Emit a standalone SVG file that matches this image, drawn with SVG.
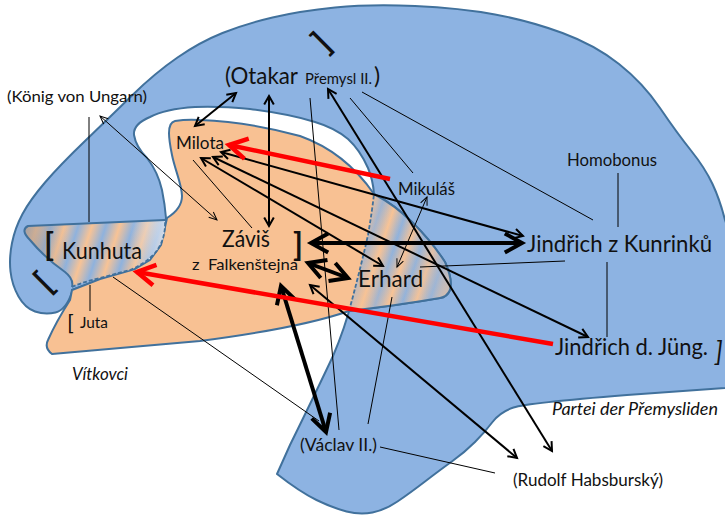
<svg xmlns="http://www.w3.org/2000/svg" width="725" height="517" viewBox="0 0 725 517">
  <style>
    .area { stroke: #41719C; stroke-width: 2; stroke-linejoin: round; }
    .blue { fill: #8DB3E2; }
    .orange { fill: #F8C193; }
    .edge { fill: none; stroke: #41719C; stroke-width: 2; stroke-linejoin: round; }
    .dash { fill: none; stroke: #41719C; stroke-width: 1.8; stroke-dasharray: 4 2; }
    text { font-family: Lato, "Liberation Sans", sans-serif; fill: #111; }
    .s { font-size: 16px; }
    .m { font-size: 17px; }
    .l { font-size: 23px; }
    .it { font-style: italic; }
    .br { font-weight: bold; }
    .c1 { fill: none; stroke: #000; stroke-width: 1; }
    .c2 { fill: none; stroke: #000; stroke-width: 2; }
    .c4 { fill: none; stroke: #000; stroke-width: 4; }
    .red { fill: none; stroke: #FF0000; stroke-width: 4.5; }
    .both1 { marker-start: url(#tipThin); marker-end: url(#tipThin); }
    .both { marker-start: url(#tip); marker-end: url(#tip); }
  </style>
  <defs>
    <marker id="tip" viewBox="-7 -5 9 10" refX="0" refY="0" markerWidth="9" markerHeight="10" orient="auto-start-reverse" markerUnits="strokeWidth" overflow="visible">
      <path d="M-4.3,-2.4 L0,0 L-4.3,2.4" fill="none" stroke="#000" stroke-width="1"/>
    </marker>
    <marker id="tipRed" viewBox="-7 -5 9 10" refX="0" refY="0" markerWidth="9" markerHeight="10" orient="auto-start-reverse" markerUnits="strokeWidth" overflow="visible">
      <path d="M-4,-2.3 L0,0 L-4,2.3" fill="none" stroke="#FF0000" stroke-width="1"/>
    </marker>
    <marker id="tipThin" viewBox="-10 -5 12 10" refX="0" refY="0" markerWidth="12" markerHeight="10" orient="auto-start-reverse" markerUnits="userSpaceOnUse" overflow="visible">
      <path d="M-8,-3.5 L0,0 L-8,3.5" fill="none" stroke="#000" stroke-width="1"/>
    </marker>
    <linearGradient id="stripeK" gradientUnits="userSpaceOnUse" x1="60" y1="240" x2="85" y2="248" spreadMethod="repeat">
      <stop offset="0" stop-color="#F7C396"/>
      <stop offset="0.5" stop-color="#8FB2DD"/>
      <stop offset="1" stop-color="#F7C396"/>
    </linearGradient>
    <linearGradient id="shadeK" gradientUnits="userSpaceOnUse" x1="25" y1="0" x2="165" y2="0">
      <stop offset="0" stop-color="#A89A92" stop-opacity="0.7"/>
      <stop offset="0.3" stop-color="#A89A92" stop-opacity="0"/>
      <stop offset="0.75" stop-color="#D8E2F0" stop-opacity="0"/>
      <stop offset="1" stop-color="#D8E2F0" stop-opacity="0.8"/>
    </linearGradient>
    <linearGradient id="stripeE" gradientUnits="userSpaceOnUse" x1="360" y1="230" x2="384" y2="238" spreadMethod="repeat">
      <stop offset="0" stop-color="#F7C396"/>
      <stop offset="0.5" stop-color="#8FB2DD"/>
      <stop offset="1" stop-color="#F7C396"/>
    </linearGradient>
    <linearGradient id="shadeE" gradientUnits="userSpaceOnUse" x1="350" y1="0" x2="452" y2="0">
      <stop offset="0" stop-color="#F8C193" stop-opacity="0.5"/>
      <stop offset="0.45" stop-color="#F8C193" stop-opacity="0"/>
      <stop offset="0.75" stop-color="#B8BCC8" stop-opacity="0.2"/>
      <stop offset="1" stop-color="#B4B8C4" stop-opacity="0.75"/>
    </linearGradient>
  </defs>

  <!-- Partei der Přemysliden: large blue area with the white channel cut in -->
  <g id="area-premysliden">
    <path class="area blue" d="M72,292 Q66,310 55.5,312.5 Q45,315 35,311.5 Q25,308 18.5,296.5 Q12,285 10.5,271.5 Q9,258 12,243 Q15,228 22.5,214 Q30,200 45,182.5 Q60,165 85,141 Q110,117 132.5,95 Q155,73 177.5,57.5 Q200,42 222.5,33 Q245,24 272.5,17.5 Q300,11 335,7.5 Q370,4 415,6 Q460,8 495,14.5 Q530,21 562.5,33 Q595,45 619,64 Q643,83 660,108 Q677,133 691,150.5 Q705,168 712.5,184 Q720,200 725,220 L732,240 L732,387 L725,388 L627,395 Q527,403 513.5,407.5 Q500,412 492.5,422 Q485,432 475,442 Q465,452 452.5,461 Q440,470 425,481.5 Q410,493 397.5,501.5 Q385,510 372.5,512.5 Q360,515 346.5,511.5 Q333,508 316.5,500 Q300,492 277,474 L290,445 Q318,388 333,356 Q345,328 352,300 Q362,262 368,235 Q372,212 374,194 Q373,180 368,168 Q360,150 348,139 Q335,128 315,122 Q290,114 250,109 Q220,106 195,107 Q165,109 150,117 Q133,124 134,135 Q136,147 147,158 Q158,172 162,190 Q165,205 166,218 L160,245 L130,270 L72,290 Z"/>
  </g>

  <!-- Vítkovci: orange area -->
  <g id="area-vitkovci">
    <path class="area orange" d="M175,121 Q187,119 200,120 Q250,122 300,136 Q345,152 374,194 Q395,205 413,223 Q432,242 445,262 Q453,280 450,290 Q447,297 440,298 Q400,305 349,311 Q300,328 200,341 Q100,350 52,354 Q44,348 48,340 Q56,322 70,300 L72,290 L100,279 L135,269 L150,260 L161,245 L167,218 C175,213 182,206 182,196 C182,185 175,170 172,155 C169,140 166,123 175,121 Z"/>
  </g>

  <!-- overlap zones -->
  <g id="overlap-kunhuta">
    <path fill="url(#stripeK)" d="M28,226 L165,220 Q166,240 155,253 Q145,264 130,270 L100,278 Q80,283 72,287 Q74,279 65,272 Q45,258 30,240 Q20,230 28,226 Z"/>
    <path fill="url(#shadeK)" d="M28,226 L165,220 Q166,240 155,253 Q145,264 130,270 L100,278 Q80,283 72,287 Q74,279 65,272 Q45,258 30,240 Q20,230 28,226 Z"/>
    <path class="edge" d="M165,220 L28,226 Q20,230 30,240 Q45,258 65,272 Q74,279 72,287"/>
    <path class="dash" d="M72,287 Q80,283 100,278 L130,270 Q145,264 155,253 Q166,240 165,220"/>
  </g>
  <g id="overlap-erhard">
    <path fill="url(#stripeE)" d="M374,194 Q395,205 413,223 Q432,242 445,262 Q453,280 450,290 Q447,297 440,298 Q400,305 349,311 L352,300 Q362,262 368,235 Q372,212 374,194 Z"/>
    <path fill="url(#shadeE)" d="M374,194 Q395,205 413,223 Q432,242 445,262 Q453,280 450,290 Q447,297 440,298 Q400,305 349,311 L352,300 Q362,262 368,235 Q372,212 374,194 Z"/>
    <path class="edge" d="M374,194 Q395,205 413,223 Q432,242 445,262 Q453,280 450,290 Q447,297 440,298 Q400,305 349,311"/>
    <path class="dash" d="M349,311 L352,300 Q362,262 368,235 Q372,212 374,194"/>
  </g>

  <!-- group labels -->
  <text class="m it" x="72" y="380" textLength="56" lengthAdjust="spacingAndGlyphs">Vítkovci</text>
  <text class="m it" x="552" y="415" textLength="166" lengthAdjust="spacingAndGlyphs">Partei der Přemysliden</text>

  <!-- persons -->
  <g id="koenig"><text class="s" x="7" y="102" textLength="140" lengthAdjust="spacingAndGlyphs">(König von Ungarn)</text></g>
  <g id="otakar">
    <text class="l" x="225" y="84" textLength="73" lengthAdjust="spacingAndGlyphs">(Otakar</text>
    <text x="305" y="84" font-size="15" textLength="67" lengthAdjust="spacingAndGlyphs">Přemysl II.</text>
    <text class="l" x="374" y="84">)</text>
  </g>
  <g id="bracket-top"><text class="br" x="0" y="0" font-size="33" transform="translate(326,54) rotate(-45)">]</text></g>
  <g id="milota"><text class="m" x="176" y="149" textLength="48" lengthAdjust="spacingAndGlyphs">Milota</text></g>
  <g id="zavis">
    <text class="l" x="222" y="247" textLength="48" lengthAdjust="spacingAndGlyphs">Záviš</text>
    <text class="s" x="192" y="270" xml:space="preserve" textLength="106" lengthAdjust="spacingAndGlyphs">z  Falkenštejna</text>
    <text class="br" x="293" y="256" font-size="32">]</text>
  </g>
  <g id="kunhuta">
    <text class="br" x="44" y="256" font-size="32">[</text>
    <text class="l" x="62" y="259" textLength="80" lengthAdjust="spacingAndGlyphs">Kunhuta</text>
  </g>
  <g id="bracket-left"><text class="br" x="0" y="0" font-size="33" transform="translate(48,294) rotate(-45)">[</text></g>
  <g id="juta">
    <text x="67" y="330" font-size="22">[</text>
    <text class="s" x="80" y="328" textLength="28" lengthAdjust="spacingAndGlyphs">Juta</text>
  </g>
  <g id="mikulas"><text class="m" x="398" y="195" textLength="57" lengthAdjust="spacingAndGlyphs">Mikuláš</text></g>
  <g id="homobonus"><text class="m" x="567" y="166" textLength="90" lengthAdjust="spacingAndGlyphs">Homobonus</text></g>
  <g id="jindrich-kunrinku"><text class="l" x="527" y="252" textLength="185" lengthAdjust="spacingAndGlyphs">Jindřich z Kunrinků</text></g>
  <g id="erhard"><text class="l" x="358" y="287" textLength="65" lengthAdjust="spacingAndGlyphs">Erhard</text></g>
  <g id="jindrich-jung">
    <text class="l" x="555" y="355" textLength="153" lengthAdjust="spacingAndGlyphs">Jindřich d. Jüng.</text>
    <text class="it" x="715" y="361" font-size="27">]</text>
  </g>
  <g id="vaclav"><text class="m" x="300" y="451" textLength="77" lengthAdjust="spacingAndGlyphs">(Václav II.)</text></g>
  <g id="rudolf"><text class="m" x="513" y="486" textLength="150" lengthAdjust="spacingAndGlyphs">(Rudolf Habsburský)</text></g>

  <!-- connectors -->
  <g id="connectors">
    <!-- plain thin lines -->
    <line class="c1" x1="89" y1="117" x2="89" y2="222"/>
    <line class="c1" x1="90" y1="285" x2="90" y2="311"/>
    <line class="c1" x1="193" y1="160" x2="252" y2="228"/>
    <line class="c1" x1="310" y1="98" x2="339" y2="430"/>
    <line class="c1" x1="350" y1="98" x2="413" y2="173"/>
    <line class="c1" x1="362" y1="92" x2="593" y2="220"/>
    <line class="c1" x1="618" y1="173" x2="618" y2="227"/>
    <line class="c1" x1="607" y1="262" x2="607" y2="337"/>
    <line class="c1" x1="565" y1="261" x2="420" y2="267"/>
    <line class="c1" x1="392" y1="297" x2="368" y2="424"/>
    <line class="c1" x1="380" y1="447" x2="495" y2="473"/>
    <line class="c1" x1="113" y1="277" x2="319" y2="421"/>
    <!-- thin double arrows -->
    <line class="c1 both1" x1="100" y1="116" x2="217" y2="220"/>
    <line class="c1 both1" x1="427" y1="197" x2="397" y2="267"/>
    <!-- medium double arrows -->
    <line class="c2 both" x1="236" y1="93" x2="195" y2="126"/>
    <line class="c2 both" x1="269" y1="96" x2="269" y2="226"/>
    <line class="c2 both" x1="328" y1="89" x2="552" y2="451"/>
    <line class="c2 both" x1="221" y1="152" x2="523" y2="236"/>
    <line class="c2 both" x1="213" y1="157" x2="588" y2="337"/>
    <line class="c2 both" x1="201" y1="158" x2="383" y2="266"/>
    <line class="c2 both" x1="310" y1="285" x2="517" y2="458"/>
    <!-- heavy double arrows -->
    <line class="c4 both" x1="311" y1="243" x2="522" y2="243"/>
    <line class="c4 both" x1="281" y1="286" x2="326" y2="432"/>
    <line class="c4 both" stroke-width="3.6" x1="308" y1="263" x2="348" y2="278"/>
    <!-- red arrows -->
    <line class="red" marker-end="url(#tipRed)" x1="390" y1="179" x2="229" y2="145"/>
    <line class="red" marker-end="url(#tipRed)" x1="553" y1="344" x2="137" y2="272"/>
  </g>
</svg>
